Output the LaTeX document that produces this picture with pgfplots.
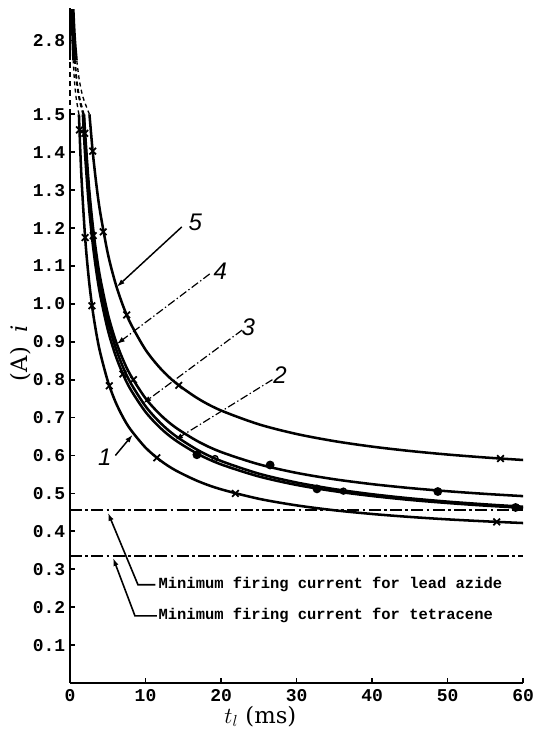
\documentclass[border=0pt]{standalone}
\usepackage{pgfplots}
\pgfplotsset{compat=1.18}
\usetikzlibrary{arrows.meta}
\usepackage{fontspec}
\setmainfont{Liberation Serif}
\newfontfamily\monob{Liberation Mono}
\newfontfamily\lblfont{Liberation Sans}
\newfontfamily\axfont{DejaVu Serif}
\begin{document}
\begin{tikzpicture}
\begin{axis}[
  scale only axis, width=339.75pt, height=506.1pt,
  xmin=0, xmax=60, ymin=0, ymax=3.37,
  clip=false,
  axis x line*=bottom, axis y line*=left,
  y axis line style={draw=none},
  x axis line style={line width=1.8pt},
  y coord trafo/.code={\pgfmathparse{#1>1.5 ? 1.5+(#1-1.5)*0.15 : #1}},
  y coord inv trafo/.code={\pgfmathparse{#1>1.5 ? 1.5+(#1-1.5)/0.15 : #1}},
  xtick={0,10,20,30,40,50,60},
  xticklabels={0,10,20,30,40,50,60},
  ytick={0.1,0.2,0.3,0.4,0.5,0.6,0.7,0.8,0.9,1.0,1.1,1.2,1.3,1.4,1.5,2.8},
  yticklabels={0.1,0.2,0.3,0.4,0.5,0.6,0.7,0.8,0.9,1.0,1.1,1.2,1.3,1.4,1.5,2.8},
  tick align=inside,
  major tick length=4pt,
  tick style={line width=1.3pt, black},
  ticklabel style={font=\monob\bfseries\fontsize{13.5}{14}\selectfont},
  xticklabel style={yshift=-1pt},
  yticklabel style={xshift=0pt},
  every axis plot/.append style={line width=1.9pt, black},
]
% curve 1
\addplot[smooth, mark=none] coordinates {(1.178,1.5)(1.5,1.3401)(2,1.1752)(2.5,1.0640)(3,0.9829)(3.5,0.9207)(4,0.8711)(5,0.7964)(6,0.7425)(7,0.7015)(8,0.6690)(10,0.6208)(12,0.5864)(14,0.5606)(17,0.5319)(20,0.5109)(25,0.4859)(30,0.4685)(35,0.4556)(40,0.4458)(45,0.4380)(50,0.4316)(55,0.4264)(60,0.4219)};
% curve 2
\addplot[smooth, mark=none] coordinates {(1.705,1.5)(2,1.3931)(2.5,1.2583)(3,1.1598)(3.5,1.0839)(4,1.0234)(5,0.9320)(6,0.8657)(7,0.8151)(8,0.7750)(10,0.7150)(12,0.6720)(14,0.6396)(17,0.6033)(20,0.5766)(25,0.5448)(30,0.5224)(35,0.5059)(40,0.4932)(45,0.4829)(50,0.4747)(55,0.4678)(60,0.4620)};
% curve 3
\addplot[smooth, mark=none] coordinates {(1.812,1.5)(2,1.4328)(2.5,1.2934)(3,1.1915)(3.5,1.1129)(4,1.0502)(5,0.9555)(6,0.8867)(7,0.8341)(8,0.7924)(10,0.7300)(12,0.6853)(14,0.6514)(17,0.6135)(20,0.5856)(25,0.5522)(30,0.5288)(35,0.5114)(40,0.4979)(45,0.4871)(50,0.4784)(55,0.4712)(60,0.4650)};
% curve 4
\addplot[smooth, mark=none] coordinates {(1.859,1.5)(2,1.4505)(2.5,1.3110)(3,1.2092)(3.5,1.1308)(4,1.0683)(5,0.9741)(6,0.9058)(7,0.8537)(8,0.8125)(10,0.7509)(12,0.7068)(14,0.6736)(17,0.6366)(20,0.6093)(25,0.5769)(30,0.5542)(35,0.5374)(40,0.5245)(45,0.5142)(50,0.5058)(55,0.4988)(60,0.4929)};
% curve 5
\addplot[smooth, mark=none] coordinates {(2.574,1.5)(3,1.4026)(3.5,1.3129)(4,1.2412)(5,1.1334)(6,1.0555)(7,0.9961)(8,0.9491)(10,0.8790)(12,0.8291)(14,0.7915)(17,0.7496)(20,0.7188)(25,0.6823)(30,0.6568)(35,0.6380)(40,0.6235)(45,0.6120)(50,0.6026)(55,0.5948)(60,0.5882)};
% upper (broken) part: dashed
\addplot[smooth, line width=1pt, dash pattern=on 3pt off 2.5pt] coordinates {(1.178,1.5)(0.802,1.8)(0.582,2.1)(0.424,2.45)};
\addplot[smooth, line width=1pt, dash pattern=on 3pt off 2.5pt] coordinates {(1.705,1.5)(1.158,1.8)(0.840,2.1)(0.611,2.45)};
\addplot[smooth, line width=1pt, dash pattern=on 3pt off 2.5pt] coordinates {(1.812,1.5)(1.231,1.8)(0.893,2.1)(0.650,2.45)};
\addplot[smooth, line width=1pt, dash pattern=on 3pt off 2.5pt] coordinates {(1.859,1.5)(1.258,1.8)(0.910,2.1)(0.661,2.45)};
\addplot[smooth, line width=1pt, dash pattern=on 3pt off 2.5pt] coordinates {(2.574,1.5)(1.719,1.8)(1.234,2.1)(0.892,2.45)};
% upper part: solid
\addplot[smooth, line width=1.6pt] coordinates {(0.424,2.45)(0.323,2.8)(0.263,3.1)(0.2245,3.35)};
\addplot[smooth, line width=1.6pt] coordinates {(0.611,2.45)(0.465,2.8)(0.378,3.1)(0.323,3.35)};
\addplot[smooth, line width=1.6pt] coordinates {(0.650,2.45)(0.494,2.8)(0.402,3.1)(0.343,3.35)};
\addplot[smooth, line width=1.6pt] coordinates {(0.892,2.45)(0.676,2.8)(0.548,3.1)(0.467,3.35)};
% marks
\addplot[only marks, mark=x, mark size=3.5pt, line width=1.3pt] coordinates {(1.25,1.459)(2.0,1.175)(2.9,0.995)(5.2,0.784)(11.5,0.594)(21.9,0.500)(56.5,0.425)};
\addplot[only marks, mark=x, mark size=3.5pt, line width=1.3pt] coordinates {(3.0,1.403)(4.4,1.19)(7.5,0.971)(14.4,0.785)(57,0.592)};
\addplot[only marks, mark=x, mark size=3.5pt, line width=1.3pt] coordinates {(8.4,0.80)(7.0,0.815)(1.95,1.45)(3.07,1.18)};
\addplot[only marks, mark=*, mark size=2.3pt] coordinates {(26.5,0.575)(48.7,0.505)(16.8,0.602)(32.7,0.512)(59,0.463)};
\addplot[only marks, mark=o, mark size=2.2pt, line width=1.1pt] coordinates {(19.2,0.592)(36.2,0.506)};
% minimum firing current lines
\addplot[line width=1.8pt, dash pattern=on 9pt off 2.5pt on 2pt off 2.5pt] coordinates {(0,0.456)(60,0.456)};
\addplot[line width=1.8pt, dash pattern=on 9pt off 2.5pt on 2pt off 2.5pt] coordinates {(0,0.335)(60,0.335)};
% y axis with break
\draw[line width=2pt] (axis cs:0,0) -- (axis cs:0,1.5);
\draw[line width=1.2pt, dash pattern=on 4pt off 3pt] (axis cs:0,1.5) -- (axis cs:0,2.46);
\draw[line width=2pt] (axis cs:0,2.46) -- (axis cs:0,3.37);
% leaders and labels
\draw[line width=1.1pt, -{Latex[length=6pt,width=4pt]}] (axis cs:14.8,1.203) -- (axis cs:6.2,1.045);
\draw[line width=0.9pt, dash pattern=on 6pt off 2pt on 1pt off 2pt, -{Latex[length=6pt,width=4pt]}] (axis cs:18.5,1.079) -- (axis cs:6.2,0.894);
\draw[line width=0.9pt, dash pattern=on 6pt off 2pt on 1pt off 2pt, -{Latex[length=6pt,width=4pt]}] (axis cs:22.8,0.931) -- (axis cs:9.7,0.738);
\draw[line width=0.9pt, dash pattern=on 6pt off 2pt on 1pt off 2pt, -{Latex[length=6pt,width=4pt]}] (axis cs:26.8,0.80) -- (axis cs:13.9,0.641);
\draw[line width=1.1pt, -{Latex[length=6pt,width=4pt]}] (axis cs:6.0,0.60) -- (axis cs:8.3,0.655);
\node[font=\lblfont\itshape\fontsize{18}{18}\selectfont] at (axis cs:16.6,1.216) {5};
\node[font=\lblfont\itshape\fontsize{18}{18}\selectfont] at (axis cs:19.9,1.085) {4};
\node[font=\lblfont\itshape\fontsize{18}{18}\selectfont] at (axis cs:23.6,0.939) {3};
\node[font=\lblfont\itshape\fontsize{18}{18}\selectfont] at (axis cs:27.8,0.813) {2};
\node[font=\lblfont\itshape\fontsize{18}{18}\selectfont] at (axis cs:4.6,0.596) {1};
\draw[line width=1.2pt, -{Latex[length=6pt,width=4pt]}] (axis cs:11.3,0.259) -- (axis cs:9.0,0.259) -- (axis cs:5.03,0.449);
\draw[line width=1.2pt, -{Latex[length=6pt,width=4pt]}] (axis cs:11.5,0.177) -- (axis cs:8.6,0.177) -- (axis cs:5.7,0.33);
\node[anchor=west, inner sep=0pt, font=\monob\bfseries\fontsize{11.6}{12}\selectfont] at (axis cs:11.7,0.259) {Minimum firing current for lead azide};
\node[anchor=west, inner sep=0pt, font=\monob\bfseries\fontsize{11.6}{12}\selectfont] at (axis cs:11.7,0.177) {Minimum firing current for tetracene};
% axis labels
\node[rotate=90, font=\axfont\fontsize{17}{17}\selectfont] at (axis cs:-6.6,0.87) {(A)\ \ \textit{i}};
\node[font=\axfont\fontsize{17}{17}\selectfont] at (axis cs:25.2,-0.088) {$t_l$\ (ms)};
\coordinate (O) at (axis cs:0,0);
\coordinate (TR) at (axis cs:60,3.37);
\end{axis}
\path ([shift={(-52.5pt,-39pt)}]O) rectangle ([shift={(7.5pt,6pt)}]TR);
\end{tikzpicture}
\end{document}
